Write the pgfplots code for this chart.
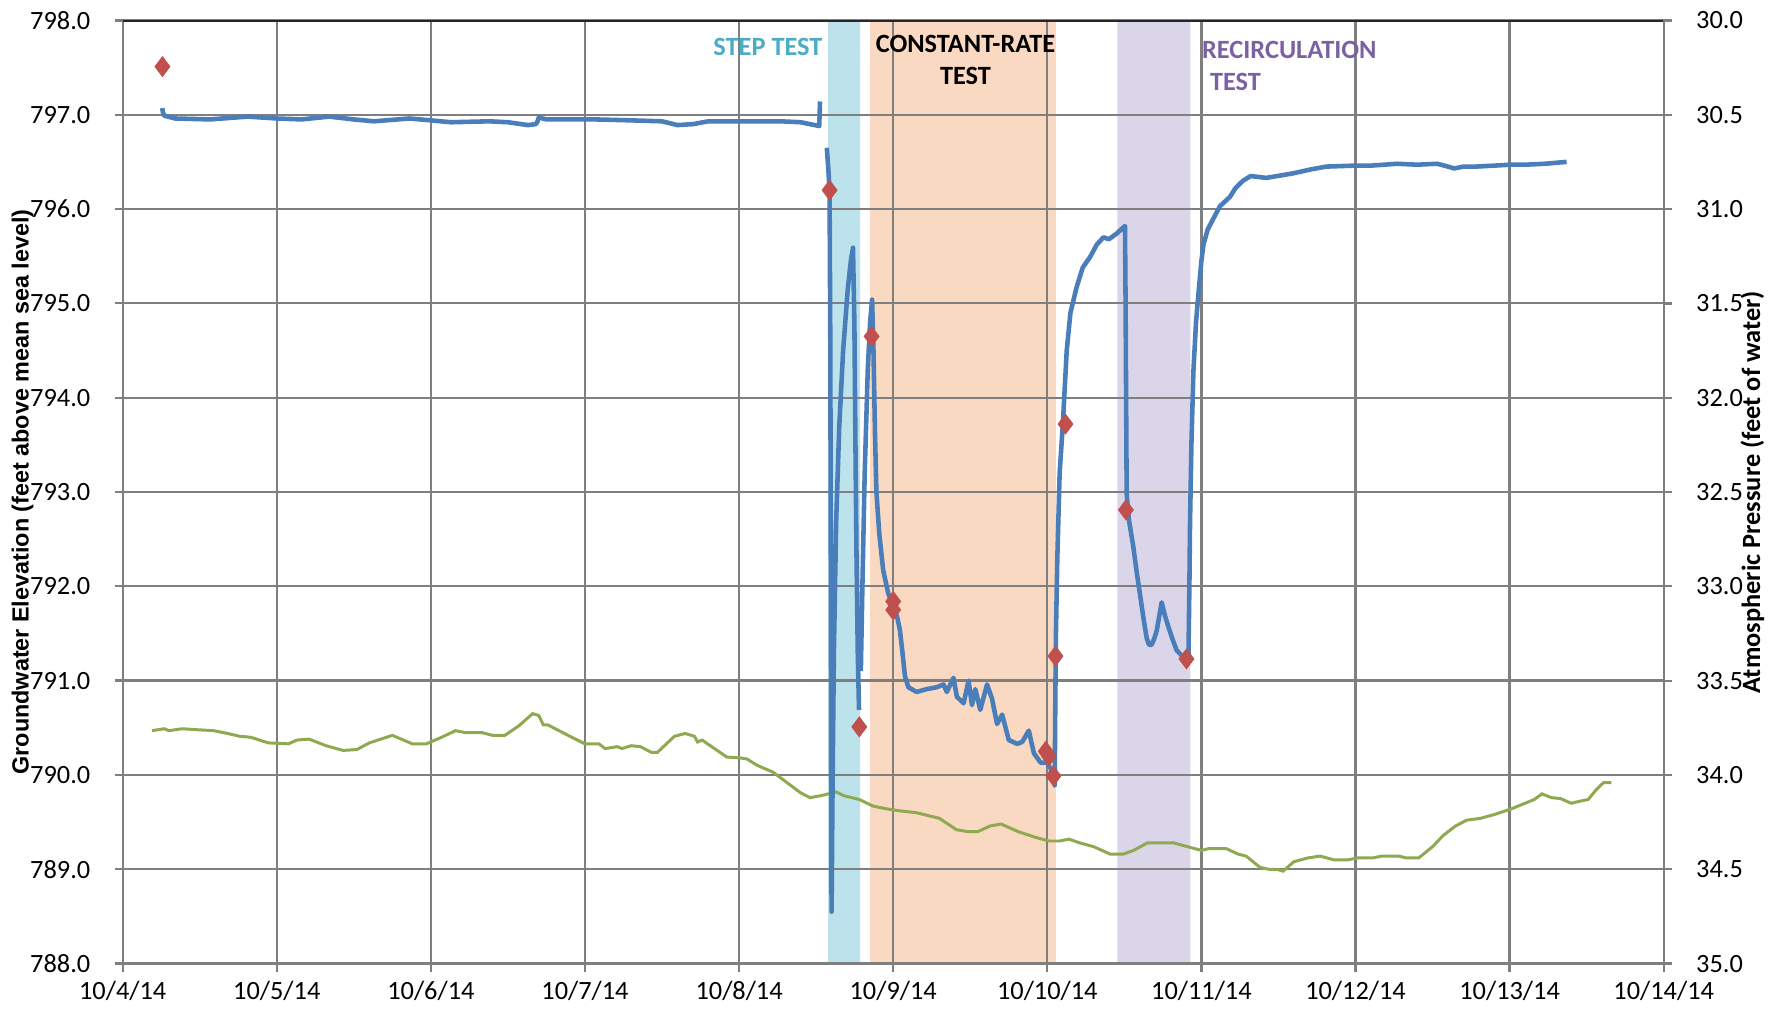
\documentclass[border=0pt]{standalone}
\usepackage{pgfplots}
\pgfplotsset{compat=1.18}
\usepackage{fontspec}
\setmainfont{Carlito}
\newfontfamily\arialf{Liberation Sans}

\definecolor{wlblue}{HTML}{4A7EBB}
\definecolor{atmgreen}{HTML}{8EA94F}
\definecolor{mred}{HTML}{C0504D}
\definecolor{stepband}{HTML}{BCE3EC}
\definecolor{crband}{HTML}{F9D9C1}
\definecolor{recband}{HTML}{DBD5EA}
\definecolor{steptxt}{HTML}{4BACC6}
\definecolor{rectxt}{HTML}{7B60A4}
\definecolor{gridgray}{HTML}{7F7F7F}

\newcommand\tk{\fontsize{7.5}{9}\selectfont}

\pgfplotsset{
  base/.style={width=15.41cm, height=9.432cm, scale only axis,
    xmin=0, xmax=10, at={(0,0)}, anchor=south west},
}

\begin{document}
\begin{tikzpicture}

% test periods (behind the grid)
\begin{axis}[base, ymin=788, ymax=798, hide axis]
\addplot[draw=none, fill=stepband] coordinates {(4.577,788) (4.785,788) (4.785,798) (4.577,798) (4.577,788)};
\addplot[draw=none, fill=crband] coordinates {(4.850,788) (6.056,788) (6.056,798) (4.850,798) (4.850,788)};
\addplot[draw=none, fill=recband] coordinates {(6.454,788) (6.928,788) (6.928,798) (6.454,798) (6.454,788)};
\end{axis}

% left axis, grid and date ticks
\begin{axis}[base, ymin=788, ymax=798,
  xtick={0,1,2,3,4,5,6,7,8,9,10},
  xticklabels={10/4/14,10/5/14,10/6/14,10/7/14,10/8/14,10/9/14,10/10/14,10/11/14,10/12/14,10/13/14,10/14/14},
  ytick={788,789,790,791,792,793,794,795,796,797,798},
  /pgf/number format/assume math mode=true,
  yticklabel style={/pgf/number format/fixed, /pgf/number format/fixed zerofill, /pgf/number format/precision=1, xshift=-0.12cm, inner ysep=0.5pt},
  xticklabel style={inner ysep=1pt, yshift=-0.05cm},
  ticklabel style={font=\tk},
  grid=major, grid style={gridgray, line width=0.65pt},
  tick pos=left, tick align=outside, major tick length=0.08cm,
  tick style={gridgray, line width=0.65pt},
  axis line style={gridgray, line width=0.65pt},
  ylabel={Groundwater Elevation (feet above mean sea level)},
  ylabel style={font=\arialf\bfseries\fontsize{6.65}{8}\selectfont, at={(axis description cs:-0.0649,0.5)}, anchor=center},
]
\coordinate (sw) at (rel axis cs:0,0);
\draw[black!85, line width=0.9pt] (rel axis cs:0,1) -- (rel axis cs:1,1);
\end{axis}

% right axis: atmospheric pressure
\begin{axis}[base, ymin=30, ymax=35, y dir=reverse,
  axis y line*=right, axis x line=none,
  ytick={30,30.5,31,31.5,32,32.5,33,33.5,34,34.5,35},
  /pgf/number format/assume math mode=true,
  yticklabel style={/pgf/number format/fixed, /pgf/number format/fixed zerofill, /pgf/number format/precision=1, xshift=0.12cm, inner ysep=0.5pt},
  ticklabel style={font=\tk},
  tick align=outside, major tick length=0.08cm,
  tick style={gridgray, line width=0.65pt},
  axis line style={gridgray, line width=0.65pt},
  ylabel={Atmospheric Pressure (feet of water)},
  ylabel style={font=\bfseries\fontsize{7.5}{9}\selectfont, at={(axis description cs:1.0575,0.5)}, anchor=center},
]
\addplot[atmgreen, line width=0.85pt] coordinates {
(0.19,33.765) (0.27,33.755) (0.30,33.765) (0.385,33.755) (0.48,33.76) (0.59,33.765)
(0.68,33.78) (0.76,33.795) (0.83,33.80) (0.945,33.83) (1.076,33.835) (1.13,33.815)
(1.21,33.81) (1.32,33.845) (1.43,33.87) (1.52,33.865) (1.6,33.83) (1.75,33.79)
(1.88,33.835) (1.97,33.835) (2.07,33.80) (2.16,33.765) (2.22,33.775) (2.33,33.775)
(2.40,33.79) (2.48,33.79) (2.57,33.74) (2.66,33.675) (2.70,33.685) (2.73,33.735)
(2.76,33.735) (2.89,33.79) (3.0,33.835) (3.09,33.835) (3.13,33.86) (3.21,33.85)
(3.24,33.86) (3.30,33.845) (3.36,33.85) (3.43,33.88) (3.47,33.88) (3.58,33.795)
(3.65,33.78) (3.71,33.795) (3.73,33.825) (3.76,33.815) (3.92,33.905) (4.01,33.91)
(4.05,33.915) (4.12,33.95) (4.22,33.985) (4.31,34.04) (4.40,34.095) (4.46,34.12)
(4.53,34.11) (4.63,34.09) (4.68,34.11) (4.78,34.13) (4.87,34.165) (4.96,34.18)
(5.04,34.19) (5.15,34.20) (5.30,34.23) (5.41,34.29) (5.48,34.30) (5.55,34.30)
(5.63,34.27) (5.70,34.26) (5.81,34.30) (5.92,34.33) (6.01,34.35) (6.08,34.35)
(6.14,34.34) (6.21,34.36) (6.30,34.38) (6.41,34.42) (6.49,34.42) (6.56,34.40)
(6.65,34.36) (6.82,34.36) (6.91,34.38) (7.0,34.40) (7.05,34.39) (7.16,34.39)
(7.24,34.42) (7.29,34.43) (7.38,34.49) (7.44,34.50) (7.49,34.50) (7.53,34.51)
(7.60,34.46) (7.69,34.44) (7.77,34.43) (7.86,34.45) (7.95,34.45) (8.01,34.44)
(8.11,34.44) (8.17,34.43) (8.28,34.43) (8.33,34.44) (8.41,34.44) (8.50,34.38)
(8.57,34.32) (8.65,34.27) (8.72,34.24) (8.81,34.23) (8.90,34.21) (9.01,34.18)
(9.07,34.16) (9.16,34.13) (9.21,34.10) (9.27,34.12) (9.33,34.125) (9.40,34.15)
(9.45,34.14) (9.51,34.13) (9.56,34.08) (9.61,34.04) (9.66,34.04)
};
\end{axis}

% groundwater elevation and manual measurements
\begin{axis}[base, ymin=788, ymax=798, hide axis, unbounded coords=jump]
\addplot[wlblue, line width=1.3pt, line join=round] coordinates {
(0.256,797.07) (0.262,797.02) (0.27,796.99) (0.34,796.96) (0.566,796.95) (0.81,796.98)
(1.0,796.96) (1.16,796.95) (1.34,796.98) (1.5,796.95) (1.63,796.93) (1.86,796.96)
(2.0,796.94) (2.13,796.92) (2.38,796.93) (2.5,796.92) (2.63,796.89) (2.68,796.90)
(2.69,796.92) (2.70,796.97) (2.75,796.95) (3.07,796.95) (3.3,796.94) (3.5,796.93)
(3.6,796.89) (3.7,796.90) (3.8,796.93) (4.0,796.93) (4.27,796.93) (4.40,796.92)
(4.52,796.88) (4.525,797.14)
(4.55,nan)
(4.569,796.65) (4.578,796.45) (4.587,796.2) (4.592,794.5) (4.596,791.5) (4.600,788.55)
(4.606,789.8) (4.615,791.3) (4.63,792.7) (4.65,793.7) (4.675,794.5) (4.705,795.15)
(4.725,795.45) (4.739,795.59) (4.748,794.8) (4.755,793.5) (4.762,792.3) (4.770,791.3)
(4.778,790.69)
(4.785,nan)
(4.79,791.1) (4.80,792.0) (4.815,793.2) (4.835,794.3) (4.85,794.8) (4.863,795.04)
(4.872,794.5) (4.882,793.6) (4.891,793.0) (4.91,792.55) (4.935,792.17) (4.967,791.93)
(5.0,791.78) (5.025,791.68) (5.043,791.54) (5.06,791.3) (5.076,791.05) (5.098,790.93)
(5.152,790.88) (5.217,790.91) (5.283,790.93) (5.326,790.96) (5.348,790.88) (5.391,791.03)
(5.413,790.83) (5.457,790.76) (5.489,791.0) (5.511,790.74) (5.533,790.91) (5.565,790.69)
(5.609,790.96) (5.641,790.81) (5.674,790.54) (5.707,790.64) (5.75,790.37) (5.804,790.33)
(5.837,790.35) (5.88,790.47) (5.913,790.23) (5.957,790.13) (6.0,790.13) (6.033,790.03)
(6.048,789.89) (6.052,790.8) (6.056,791.5) (6.065,792.3) (6.08,793.2) (6.1,793.7)
(6.126,794.5) (6.15,794.9) (6.19,795.17) (6.23,795.38) (6.277,795.49) (6.32,795.62)
(6.364,795.70) (6.40,795.68) (6.45,795.74) (6.504,795.82) (6.508,795.0) (6.512,793.8)
(6.515,792.98) (6.53,792.7) (6.558,792.42) (6.58,792.15) (6.60,791.93) (6.625,791.65)
(6.645,791.45) (6.66,791.38) (6.677,791.38) (6.695,791.45) (6.71,791.53) (6.742,791.83)
(6.765,791.68) (6.786,791.57) (6.81,791.45) (6.84,791.32) (6.87,791.27) (6.894,791.24)
(6.905,791.22) (6.916,791.28) (6.922,792.0) (6.926,792.66) (6.935,793.5) (6.948,794.28)
(6.965,794.8) (6.98,795.09) (7.0,795.45) (7.013,795.62) (7.04,795.78) (7.078,795.9)
(7.12,796.03) (7.186,796.13) (7.22,796.22) (7.27,796.30) (7.32,796.35) (7.42,796.33)
(7.53,796.36) (7.6,796.38) (7.71,796.42) (7.81,796.45) (7.99,796.46) (8.1,796.46)
(8.27,796.48) (8.4,796.47) (8.53,796.48) (8.6,796.45) (8.64,796.43) (8.7,796.45)
(8.78,796.45) (8.9,796.46) (9.0,796.47) (9.1,796.47) (9.23,796.48) (9.3,796.49)
(9.37,796.5)
};
\addplot[only marks, mark=diamond*, mark size=2.7pt, color=mred] coordinates {
(0.258,797.51) (4.587,796.2) (4.78,790.51) (4.86,794.65) (5.0,791.84) (5.0,791.75)
(5.99,790.25) (6.01,790.2) (6.04,789.99) (6.053,791.26) (6.118,793.72) (6.51,792.81)
(6.903,791.23)
};
\node[font=\bfseries\tk, text=steptxt] at (axis cs:4.187,797.72) {STEP TEST};
\node[font=\bfseries\tk, align=center, inner sep=0pt] at (axis cs:5.469,797.58) {CONSTANT-RATE\\TEST};
\node[font=\bfseries\tk, text=rectxt, align=left, anchor=west, inner sep=0pt] at (axis cs:7.0,797.52) {RECIRCULATION\\\hspace*{0.3em}TEST};
\end{axis}

\path (sw) ++(-1.227,-0.524) rectangle ++(17.81,10.16);
\end{tikzpicture}
\end{document}
